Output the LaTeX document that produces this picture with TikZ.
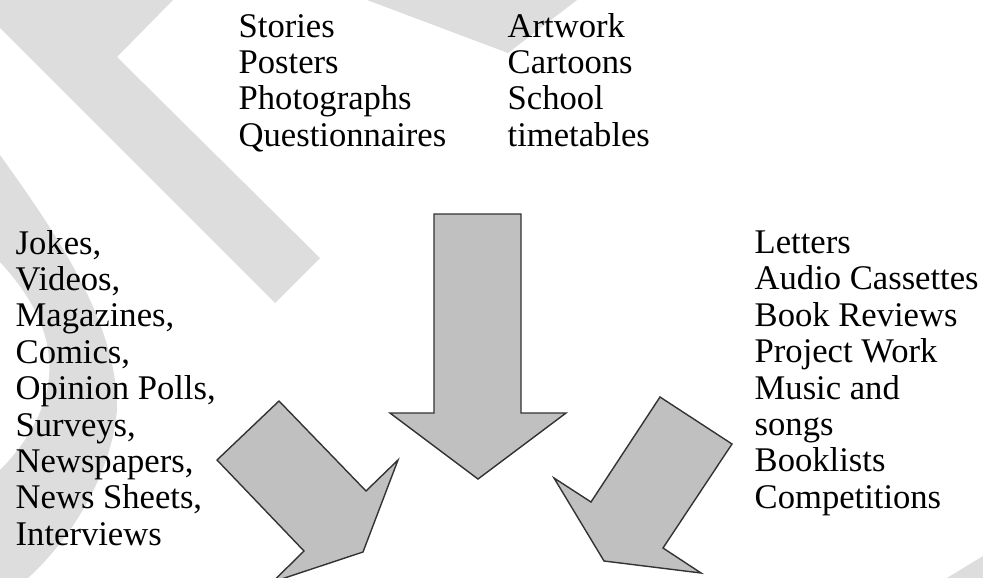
\documentclass[tikz,border=0pt]{standalone}
\usepackage{fontspec}
\setmainfont{Liberation Serif}
\usepackage{tikz}
\usetikzlibrary{positioning}
\usepackage{xcolor}
\definecolor{wmGray}{HTML}{DDDDDD}
\definecolor{arrowGray}{HTML}{C0C0C0}
\definecolor{edgeGray}{HTML}{333333}

\begin{document}
\begin{tikzpicture}[
    x=1pt, y=-1pt,
    wmark/.style={fill=wmGray, draw=none},
    blockarrow/.style={fill=arrowGray, draw=edgeGray, line width=1.4pt, line join=miter},
    itemcol/.style={anchor=base west, align=left, inner sep=0pt, font=\fontsize{34.6}{36.4}\selectfont},
]
    \useasboundingbox (0,0) rectangle (983,578);
    \clip (0,0) rectangle (983,578);

    % Watermark
    \fill[wmark] (0,0) -- (173,0) -- (117,57) -- (320,258) -- (275,303) -- (0,28) -- cycle;
    \fill[wmark] (367,0) -- (577,0) -- (508,53) -- cycle;
    \fill[wmark] (0,155) .. controls (50,225) and (118,320) .. (117,410)
        .. controls (112,470) and (75,535) .. (28,578) -- (0,578) -- (0,470)
        .. controls (20,450) and (42,420) .. (48,385)
        .. controls (55,340) and (35,300) .. (0,262) -- cycle;
    \fill[wmark] (947,578) -- (983,556) -- (983,578) -- cycle;

    % Lists (placed at the baseline of their last line)
    \node[itemcol] (topleft) at (238.5,146.2) {Stories\\Posters\\Photographs\\Questionnaires};
    \node[itemcol] (topright) at (507.5,146.2) {Artwork\\Cartoons\\School\\timetables};
    \node[itemcol] (leftlist) at (15.5,545.2) {Jokes,\\Videos,\\Magazines,\\Comics,\\Opinion Polls,\\Surveys,\\Newspapers,\\News Sheets,\\Interviews};
    \node[itemcol] (rightlist) at (754.5,508.3) {Letters\\Audio Cassettes\\Book Reviews\\Project Work\\Music and\\songs\\Booklists\\Competitions};

    % Arrows
    \draw[blockarrow] (434,214) -- (521,214) -- (521,413) -- (566,413) -- (478,479) -- (390,413) -- (434,413) -- cycle;
    \draw[blockarrow] (279,401) -- (366,491) -- (398,460) -- (363,552) -- (272.5,582) -- (304,551) -- (217,460) -- cycle;
    \draw[blockarrow] (660,397) -- (732,444) -- (663,548) -- (701,573) -- (604,561) -- (554,478) -- (591,502) -- cycle;
\end{tikzpicture}
\end{document}
